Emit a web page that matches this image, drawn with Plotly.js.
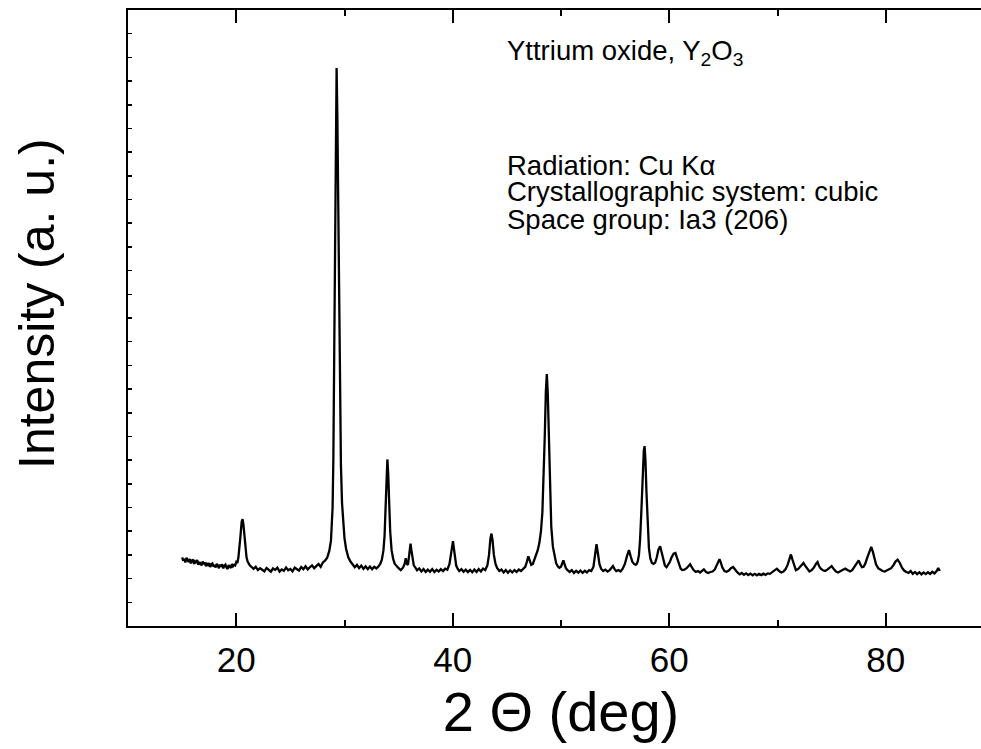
<!DOCTYPE html>
<html>
<head>
<meta charset="utf-8">
<script src="https://cdn.plot.ly/plotly-3.0.1.min.js"></script>
<style>
html,body{margin:0;padding:0;overflow:hidden;background:#fff;}
#chart{width:1000px;height:749px;}
</style>
</head>
<body>
<div id="chart"></div>
<script>
// 2-theta positions (deg)
const twoTheta = [
15.0,15.1,15.2,15.3,15.4,15.5,15.6,15.7,15.8,15.9,16.0,16.1,16.2,16.3,16.4,16.5,16.6,16.7,16.8,16.9,
17.0,17.1,17.2,17.3,17.4,17.5,17.6,17.7,17.8,17.9,18.0,18.1,18.2,18.3,18.4,18.5,18.6,18.7,18.8,18.9,
19.0,19.1,19.2,19.3,19.4,19.5,19.6,19.7,19.8,19.9,20.0,20.1,20.2,20.3,20.4,20.5,20.58,20.66,20.75,20.85,
20.95,21.05,21.15,21.25,21.4,21.6,21.8,22.0,22.2,22.4,22.6,22.8,23.0,23.2,23.4,23.6,23.8,24.0,24.2,24.4,
24.6,24.8,25.0,25.2,25.4,25.6,25.8,26.0,26.2,26.4,26.6,26.8,27.0,27.2,27.4,27.6,27.8,28.0,28.2,28.4,
28.6,28.75,28.9,28.97,29.05,29.12,29.2,29.27,29.34,29.42,29.5,29.58,29.67,29.77,29.87,30.0,30.15,30.35,30.55,30.75,
30.95,31.15,31.35,31.55,31.75,31.95,32.15,32.35,32.55,32.75,32.95,33.15,33.3,33.45,33.6,33.7,33.8,33.88,33.96,34.04,
34.12,34.22,34.35,34.5,34.65,34.8,35.0,35.2,35.4,35.55,35.66,35.76,35.86,35.95,36.03,36.1,36.18,36.28,36.4,36.55,
36.7,36.9,37.1,37.3,37.5,37.7,37.9,38.1,38.3,38.5,38.7,38.9,39.1,39.3,39.5,39.7,39.85,39.95,40.02,40.1,
40.2,40.32,40.45,40.6,40.8,41.0,41.2,41.4,41.6,41.8,42.0,42.2,42.4,42.6,42.8,43.0,43.2,43.35,43.48,43.58,
43.68,43.8,43.95,44.1,44.3,44.5,44.7,44.9,45.1,45.3,45.5,45.7,45.9,46.1,46.3,46.5,46.7,46.85,46.98,47.1,
47.25,47.4,47.55,47.7,47.85,48.0,48.15,48.28,48.4,48.5,48.6,48.69,48.78,48.88,48.98,49.1,49.25,49.4,49.55,49.7,
49.85,50.0,50.12,50.22,50.32,50.45,50.6,50.8,51.0,51.2,51.4,51.6,51.8,52.0,52.2,52.4,52.6,52.8,53.0,53.15,
53.28,53.4,53.55,53.7,53.9,54.1,54.3,54.5,54.65,54.8,54.95,55.1,55.3,55.5,55.7,55.9,56.1,56.28,56.45,56.6,
56.75,56.9,57.0,57.1,57.2,57.3,57.42,57.55,57.65,57.72,57.8,57.9,58.0,58.12,58.25,58.4,58.55,58.7,58.85,59.0,
59.16,59.3,59.45,59.6,59.75,59.9,60.05,60.2,60.4,60.57,60.72,60.88,61.05,61.2,61.4,61.6,61.78,61.93,62.08,62.25,
62.45,62.65,62.85,63.0,63.2,63.4,63.6,63.8,64.0,64.2,64.4,64.55,64.64,64.75,64.9,65.1,65.3,65.5,65.7,65.9,
66.1,66.3,66.5,66.7,66.9,67.1,67.3,67.5,67.7,67.9,68.1,68.3,68.5,68.7,68.9,69.1,69.3,69.5,69.7,69.94,
70.15,70.35,70.55,70.75,70.95,71.1,71.24,71.38,71.55,71.7,71.9,72.1,72.25,72.4,72.55,72.75,72.95,73.15,73.35,73.55,
73.7,73.85,74.0,74.2,74.4,74.6,74.8,75.0,75.2,75.4,75.6,75.8,76.0,76.26,76.5,76.7,76.9,77.1,77.3,77.5,
77.65,77.8,77.95,78.1,78.3,78.5,78.66,78.8,78.95,79.1,79.3,79.5,79.7,79.9,80.1,80.3,80.5,80.7,80.9,81.1,
81.3,81.5,81.7,81.9,82.1,82.3,82.5,82.7,82.9,83.1,83.3,83.5,83.7,83.9,84.1,84.3,84.5,84.7,84.85,85.0
];
// measured intensity (arbitrary units)
const intensity = [
290,276,284,268,288,279,270,283,264,276,281,262,272,266,279,258,270,263,256,272,
261,268,252,262,257,266,249,260,264,251,258,247,262,255,244,259,250,261,243,254,
259,246,241,257,250,245,262,252,258,256,270,266,290,330,385,440,451,430,380,320,
290,272,262,256,250,241,250,236,244,238,231,245,236,229,243,237,246,230,239,233,
247,235,241,231,246,240,234,249,240,252,239,248,256,244,252,262,250,268,276,288,
318,360,500,700,1150,1700,2150,2355,2150,1750,1350,950,680,520,430,370,325,290,272,262,
248,258,244,255,241,252,240,251,240,250,243,252,262,280,320,380,480,620,703,640,
520,400,320,282,262,252,244,236,246,262,286,262,258,290,330,348,320,280,256,246,
235,243,230,240,228,238,229,240,228,237,230,240,232,242,238,262,310,350,358,330,
285,255,242,232,240,229,238,228,237,227,238,228,240,230,242,236,256,300,370,390,
360,300,262,245,232,238,226,236,225,235,226,236,228,238,232,242,250,272,294,278,
258,262,280,300,320,350,400,480,620,800,990,1063,980,760,560,420,335,290,265,252,
246,250,268,277,262,244,236,228,236,224,233,225,234,224,233,226,236,232,250,300,
345,310,262,242,232,238,230,236,246,253,240,232,236,230,242,262,296,320,292,270,
262,258,262,275,300,360,480,650,740,759,700,560,420,330,285,266,262,268,290,322,
337,310,275,255,248,258,270,288,305,308,285,258,242,236,238,244,255,261,248,236,
228,232,226,230,239,228,224,228,230,238,256,275,282,270,248,232,229,234,244,249,
236,226,218,224,216,222,215,221,214,220,214,220,215,221,216,222,220,228,236,242,
232,226,230,240,260,285,302,280,250,236,240,250,262,266,255,240,230,236,246,262,
270,252,242,235,232,238,246,253,240,230,226,232,236,242,234,230,236,248,262,277,
260,248,250,262,290,320,334,315,285,260,244,236,232,230,234,238,244,256,272,280,
266,246,234,228,224,232,220,228,219,227,218,226,219,227,220,229,222,232,244,232
];
const xTickVals = [20, 40, 60, 80];
const xTickText = ['20', '40', '60', '80'];
const infoLines = [
  'Yttrium oxide, Y<sub>2</sub>O<sub>3</sub>',
  'Radiation: Cu K\u03b1',
  'Crystallographic system: cubic',
  'Space group: Ia3 (206)'
];
const infoY = [53, 165, 192, 219];

const M = {l:128, r:6, t:10, b:123};
const W = 1000, H = 749;
const pw = W - M.l - M.r, ph = H - M.t - M.b;
const px2x = p => (p - M.l) / pw;
const px2y = p => (H - M.b - p) / ph;
const FONT = 'Liberation Sans, Arial, Helvetica, sans-serif';

const annotations = infoLines.map((t, i) => ({
  text: t, xref:'paper', yref:'paper', x: px2x(505), y: px2y(infoY[i]),
  xanchor:'left', yanchor:'middle', showarrow:false,
  font:{family:FONT, size:27.5, color:'#000'}
}));
annotations.push({
  text:'Intensity (a. u.)', xref:'paper', yref:'paper', x: px2x(37), y: px2y(304),
  xanchor:'center', yanchor:'middle', textangle:-90, showarrow:false,
  font:{family:FONT, size:50, color:'#000'}
});

const trace = {
  x: twoTheta, y: intensity, type:'scatter', mode:'lines',
  line:{color:'#000', width:2.3}, hoverinfo:'skip'
};

const layout = {
  width: W, height: H, margin: M,
  paper_bgcolor:'#fff', plot_bgcolor:'#fff', showlegend:false,
  font:{family:FONT, color:'#000'},
  xaxis:{
    range:[10, 90], tickmode:'array', tickvals:xTickVals, ticktext:xTickText,
    ticks:'inside', ticklen:13, tickwidth:2, tickcolor:'#000',
    minor:{tickmode:'linear', tick0:0, dtick:10, ticks:'inside', ticklen:6, tickwidth:2, tickcolor:'#000', showgrid:false},
    showline:true, linewidth:2, linecolor:'#000', mirror:'ticks',
    showgrid:false, zeroline:false, ticklabelstandoff:2,
    tickfont:{family:FONT, size:35, color:'#000'},
    title:{text:'2 \u0398 (deg)', font:{family:FONT, size:56, color:'#000'}, standoff:14}
  },
  yaxis:{
    range:[0, 2600], tickmode:'linear', tick0:0, dtick:100,
    ticks:'inside', ticklen:4, tickwidth:1.5, tickcolor:'#000',
    showticklabels:false, showline:true, linewidth:2, linecolor:'#000', mirror:'ticks',
    showgrid:false, zeroline:false
  },
  annotations: annotations
};

Plotly.newPlot('chart', [trace], layout, {staticPlot:true, displayModeBar:false});
</script>
</body>
</html>
